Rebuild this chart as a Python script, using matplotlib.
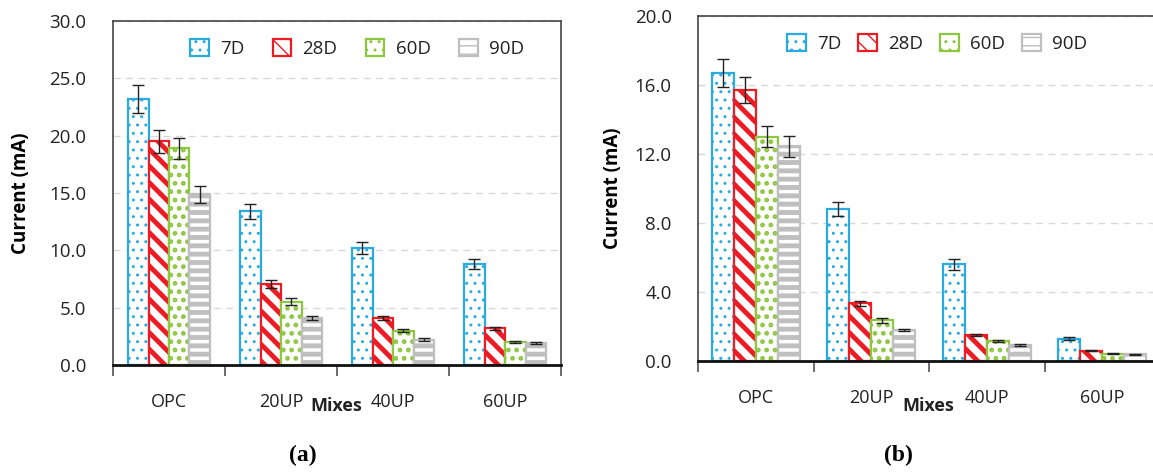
import numpy as np
import matplotlib
matplotlib.use("Agg")
import matplotlib.pyplot as plt

mixes = ["OPC", "20UP", "40UP", "60UP"]
ages = ["7D", "28D", "60D", "90D"]

# panel (a)
a_vals = [[23.2, 13.4, 10.2, 8.8],
          [19.5, 7.1, 4.1, 3.2],
          [18.9, 5.5, 3.0, 2.0],
          [14.9, 4.1, 2.2, 1.9]]
a_err = [[1.2, 0.65, 0.5, 0.45],
         [1.0, 0.35, 0.2, 0.15],
         [0.9, 0.3, 0.15, 0.1],
         [0.75, 0.2, 0.15, 0.1]]

# panel (b)
b_vals = [[16.7, 8.8, 5.6, 1.3],
          [15.7, 3.35, 1.5, 0.6],
          [13.0, 2.35, 1.15, 0.42],
          [12.45, 1.8, 0.92, 0.38]]
b_err = [[0.8, 0.4, 0.3, 0.07],
         [0.75, 0.15, 0.07, 0.03],
         [0.6, 0.12, 0.05, 0.03],
         [0.6, 0.08, 0.04, 0.03]]

colors = ["#29ABE2", "#ED1C24", "#8DC63F", "#BFBFBF"]
hatches = ["..", "\\\\", "..", "--"]
hatch_lw = [1.0, 3.5, 2.2, 3.5]

plt.rcParams["font.family"] = ["Open Sans", "DejaVu Sans"]


def draw(ax, vals, errs, ymax, step, width, leg_anchor, colspace):
    x = np.arange(len(mixes))
    for i in range(len(ages)):
        pos = x + (i - 1.5) * width
        with plt.rc_context({"hatch.linewidth": hatch_lw[i], "hatch.color": colors[i]}):
            bars = ax.bar(pos, vals[i], width, color="white", edgecolor=colors[i],
                          hatch=hatches[i], linewidth=1.6, label=ages[i], zorder=2)
        for b in bars:
            if hasattr(b, "set_hatch_linewidth"):
                b.set_hatch_linewidth(hatch_lw[i])
        ax.errorbar(pos, vals[i], yerr=errs[i], fmt="none", ecolor="#222222",
                    elinewidth=1.0, capsize=4, capthick=1.0, zorder=3)
    ax.set_xlim(-0.5, len(mixes) - 0.5)
    ax.set_ylim(0, ymax)
    ticks = np.arange(0, ymax + 0.01, step)
    ax.set_yticks(ticks)
    ax.set_yticklabels([f"{v:.1f}" for v in ticks])
    ax.set_xticks(x)
    ax.set_xticklabels(mixes)
    ax.set_xticks(np.arange(-0.5, len(mixes), 1.0), minor=True)
    ax.tick_params(axis="x", which="major", length=0, pad=20, labelsize=13, labelcolor="#222222")
    ax.tick_params(axis="x", which="minor", length=8, width=1.2, color="#555555")
    ax.tick_params(axis="y", length=0, pad=19, labelsize=13.5, labelcolor="#222222")
    ax.yaxis.grid(True, linestyle=(0, (5, 4)), color="#D9D9D9", linewidth=1.0, zorder=0)
    ax.set_axisbelow(True)
    for s in ["top", "right", "left"]:
        ax.spines[s].set_color("#444444")
        ax.spines[s].set_linewidth(1.2)
    ax.spines["bottom"].set_color("#111111")
    ax.spines["bottom"].set_linewidth(2.0)
    ax.set_ylabel("Current (mA)", fontsize=13.5, fontweight="bold")
    ax.legend(loc="upper left", bbox_to_anchor=leg_anchor, ncol=4, frameon=False,
              fontsize=13.5, handlelength=1.0, handleheight=1.0, columnspacing=colspace,
              handletextpad=0.6, borderpad=0, borderaxespad=0, labelcolor="#222222")


fig = plt.figure(figsize=(11.53, 4.72), dpi=100)
ax1 = fig.add_axes([0.098, 0.2267, 0.3886, 0.7288])
ax2 = fig.add_axes([0.6054, 0.2352, 0.4007, 0.7309])

draw(ax1, a_vals, a_err, 30.0, 5.0, 0.183, (0.172, 0.948), 1.5)
draw(ax2, b_vals, b_err, 20.0, 4.0, 0.19, (0.193, 0.948), 0.9)
ax1.yaxis.set_label_coords(-0.182, 0.5)
ax2.yaxis.set_label_coords(-0.163, 0.5)

fig.text(0.269, 0.14, "Mixes", fontsize=13, fontweight="bold", ha="left", va="center", color="#222222")
fig.text(0.783, 0.14, "Mixes", fontsize=13, fontweight="bold", ha="left", va="center", color="#222222")
fig.text(0.263, 0.035, "(a)", fontsize=17, fontweight="bold", ha="center", va="center",
         family=["Liberation Serif", "DejaVu Serif"])
fig.text(0.779, 0.035, "(b)", fontsize=17, fontweight="bold", ha="center", va="center",
         family=["Liberation Serif", "DejaVu Serif"])

fig.savefig("out.png", dpi=100)
